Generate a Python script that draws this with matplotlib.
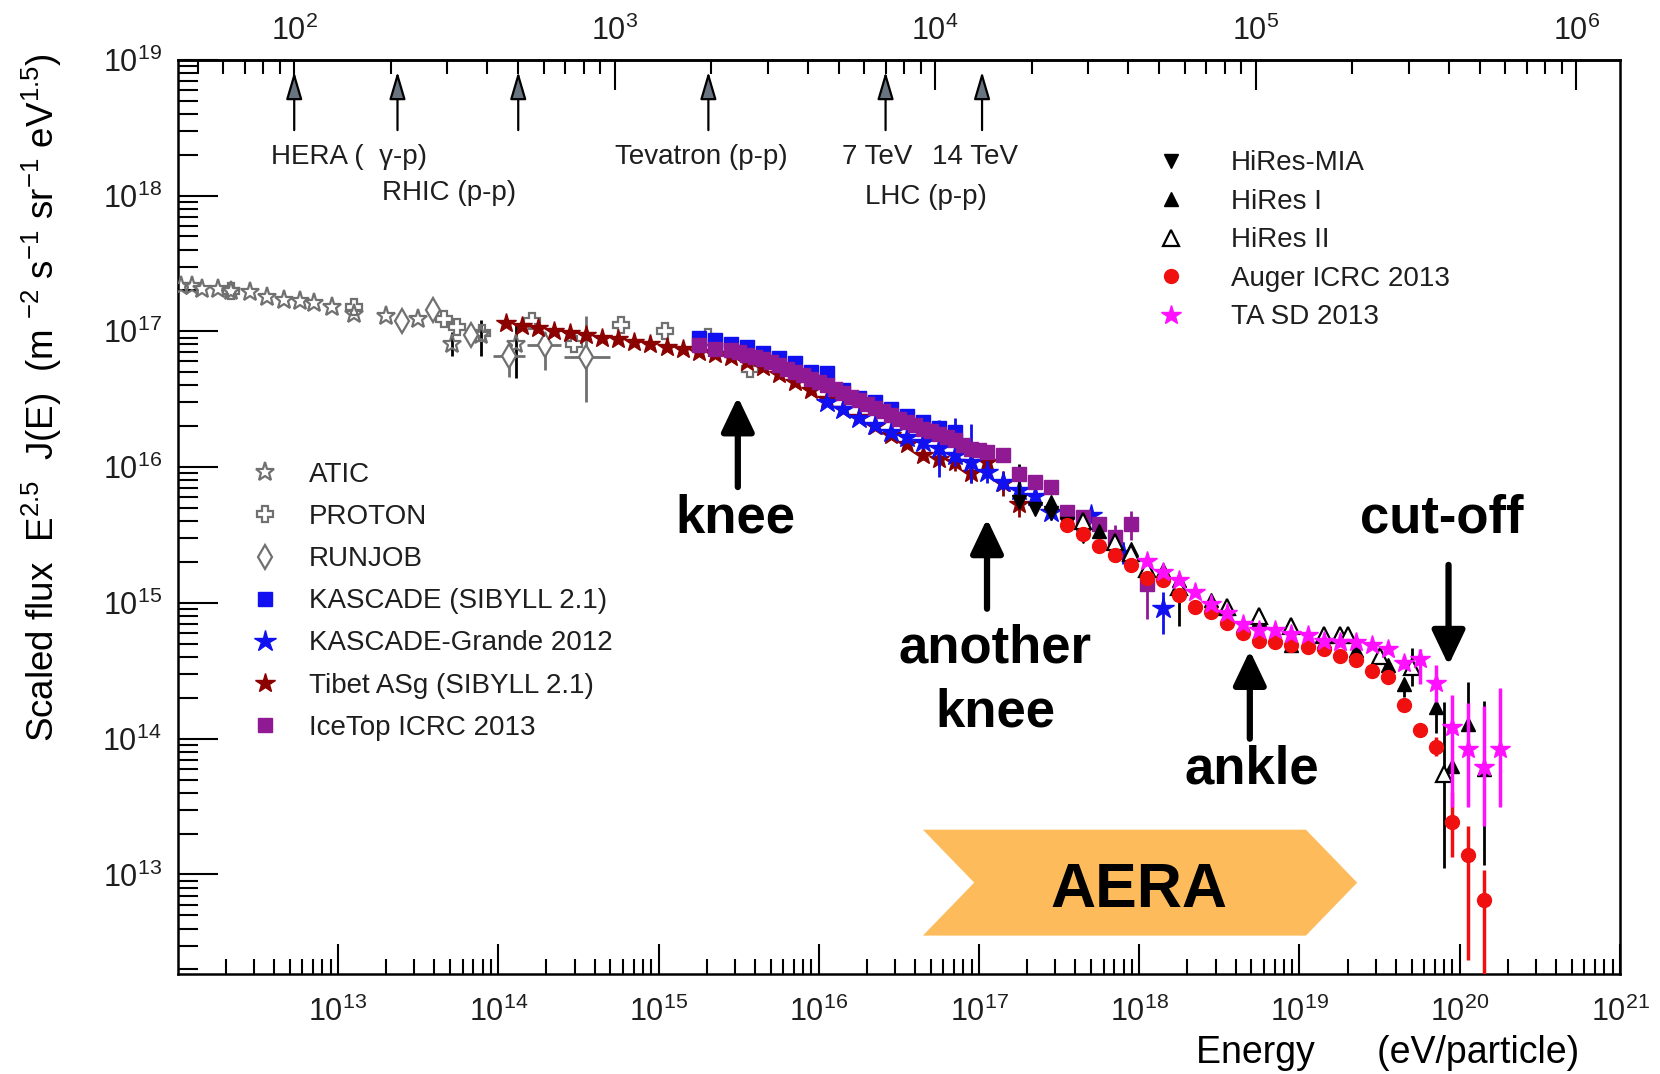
import numpy as np
import matplotlib
matplotlib.use('Agg')
import matplotlib.pyplot as plt
from matplotlib.patches import Polygon
from matplotlib.ticker import LogLocator, NullFormatter
import matplotlib.transforms as mtransforms

plt.rcParams['font.family'] = ['Liberation Sans', 'DejaVu Sans']
plt.rcParams['mathtext.fontset'] = 'custom'
plt.rcParams['mathtext.rm'] = 'Liberation Sans'
plt.rcParams['mathtext.it'] = 'Liberation Sans:italic'
plt.rcParams['mathtext.bf'] = 'Liberation Sans:bold'
plt.rcParams['text.color'] = '#1e1e1e'

M_P = 0.938e9  # proton mass, eV

# all spectra as log10(E / eV) and log10(E^2.5 J(E)); errors in dex
atic_lgE = [12.02, 12.09, 12.15, 12.25, 12.33, 12.45, 12.56, 12.66, 12.76, 12.85, 12.96,
            13.10, 13.30, 13.50, 13.71, 13.89, 14.11]
atic_lgF = [17.33, 17.33, 17.315, 17.31, 17.30, 17.29, 17.25, 17.23, 17.22, 17.205, 17.18,
            17.13, 17.11, 17.09, 16.905, 16.97, 16.905]
atic_lo = [0]*14 + [0.09, 0.15, 0.25]
atic_hi = [0]*14 + [0.09, 0.11, 0.14]

proton_lgE = [12.33, 13.10, 13.66, 13.745, 13.90, 14.21, 14.47, 14.765, 15.04, 15.31, 15.57]
proton_lgF = [17.30, 17.18, 17.094, 17.032, 16.99, 17.077, 16.91, 17.045, 17.0, 16.96, 16.726]

runjob_lgE = [13.40, 13.59, 13.83, 14.07, 14.29, 14.55]
runjob_lgF = [17.074, 17.155, 16.97, 16.816, 16.897, 16.81]
runjob_lo = [0, 0, 0, 0.15, 0.18, 0.33]
runjob_hi = [0, 0, 0, 0.045, 0.10, 0.30]
runjob_xlo = [0, 0, 0, 0.105, 0.11, 0.14]
runjob_xhi = [0, 0, 0, 0.10, 0.10, 0.15]

tibet_lgE = [14.05, 14.15, 14.25, 14.35, 14.45, 14.55, 14.65, 14.75, 14.85, 14.95,
             15.05, 15.15, 15.25, 15.35, 15.45, 15.55, 15.65, 15.75, 15.85, 15.95,
             16.05, 16.15, 16.25, 16.35, 16.45, 16.55, 16.65, 16.75, 16.85, 16.95,
             17.05, 17.15, 17.25]
tibet_lgF = [17.058, 17.038, 17.021, 17.003, 16.988, 16.971, 16.954, 16.94, 16.922, 16.903,
             16.885, 16.873, 16.848, 16.836, 16.811, 16.775, 16.738, 16.689, 16.627, 16.566,
             16.50, 16.43, 16.37, 16.30, 16.24, 16.17, 16.09, 16.06, 16.04, 15.96,
             16.04, 15.88, 15.73]
tibet_lo = [0]*26 + [0.04, 0.05, 0.07, 0.08, 0.08, 0.09, 0.10]
tibet_hi = [0]*26 + [0.04, 0.05, 0.07, 0.08, 0.08, 0.09, 0.10]

kascade_lgE = [15.25, 15.35, 15.45, 15.55, 15.65, 15.75, 15.85, 15.95, 16.05, 16.15,
               16.25, 16.35, 16.45, 16.55, 16.65, 16.75, 16.85]
kascade_lgF = [16.95, 16.935, 16.91, 16.885, 16.84, 16.80, 16.763, 16.70, 16.69, 16.57,
               16.51, 16.48, 16.43, 16.38, 16.33, 16.29, 16.26]
kascade_lo = [0]*12 + [0.03, 0.04, 0.05, 0.06, 0.14]
kascade_hi = [0]*12 + [0.05, 0.04, 0.05, 0.06, 0.10]

grande_lgE = [16.05, 16.15, 16.25, 16.35, 16.45, 16.55, 16.65, 16.75, 16.85, 16.95,
              17.05, 17.15, 17.25, 17.35, 17.45, 17.70, 17.90, 18.15]
grande_lgF = [16.48, 16.43, 16.36, 16.31, 16.26, 16.22, 16.185, 16.14, 16.09, 16.04,
              15.965, 15.89, 15.835, 15.79, 15.67, 15.645, 15.37, 14.96]
grande_lo = [0, 0, 0, 0, 0, 0.04, 0.05, 0.21, 0.08, 0.16, 0.08, 0.06, 0.06, 0.06, 0.06, 0.06, 0.08, 0.19]
grande_hi = [0, 0, 0, 0, 0, 0.04, 0.05, 0.16, 0.08, 0.28, 0.08, 0.06, 0.06, 0.06, 0.06, 0.06, 0.08, 0.12]

icetop_lgE = [15.25, 15.35, 15.45, 15.50, 15.55, 15.60, 15.65, 15.70, 15.75, 15.80,
              15.85, 15.90, 15.95, 16.00, 16.05, 16.10, 16.15, 16.20, 16.25, 16.30,
              16.35, 16.40, 16.45, 16.50, 16.55, 16.60, 16.65, 16.70, 16.75, 16.80,
              16.85, 16.90, 16.95, 17.00, 17.05, 17.15, 17.25, 17.35, 17.45, 17.55,
              17.65, 17.75, 17.85, 17.95, 18.05]
icetop_lgF = [16.898, 16.873, 16.861, 16.848, 16.829, 16.811, 16.794, 16.775, 16.75, 16.726,
              16.70, 16.676, 16.652, 16.627, 16.603, 16.578, 16.546, 16.517, 16.492, 16.463,
              16.438, 16.413, 16.382, 16.357, 16.332, 16.308, 16.284, 16.264, 16.242, 16.222,
              16.203, 16.161, 16.136, 16.124, 16.11, 16.087, 15.95, 15.89, 15.85, 15.67,
              15.63, 15.58, 15.485, 15.58, 15.14]
icetop_lo = [0]*42 + [0.0, 0.12, 0.26]
icetop_hi = [0]*42 + [0.085, 0.10, 0.09]

mia_lgE = [17.25, 17.35, 17.45, 17.55, 17.65]
mia_lgF = [15.74, 15.69, 15.66, 15.58, 15.49]
mia_lo = [0.02, 0, 0, 0, 0]
mia_hi = [0.28, 0, 0, 0, 0]

hires1_lgE = [17.45, 17.75, 17.95, 18.15, 18.25, 18.45, 18.55, 18.75, 18.95, 19.15,
              19.35, 19.55, 19.65, 19.85, 19.95, 20.05, 20.15]
hires1_lgF = [15.74, 15.53, 15.40, 15.24, 15.17, 15.02, 14.96, 14.88, 14.69, 14.72,
              14.65, 14.54, 14.405, 14.23, 13.80, 14.11, 13.78]
hires1_lo = [0]*12 + [0.10, 0.19, 0.18, 0.30, 0.71]
hires1_hi = [0]*12 + [0.0, 0.04, 0.05, 0.31, 0.50]

hires2_lgE = [17.65, 17.85, 17.95, 18.05, 18.25, 18.55, 18.75, 18.95, 19.15, 19.25,
              19.30, 19.50, 19.70, 19.90]
hires2_lgF = [15.60, 15.45, 15.37, 15.25, 15.12, 14.97, 14.90, 14.83, 14.76, 14.76,
              14.76, 14.61, 14.53, 13.74]
hires2_lo = [0, 0, 0, 0.10, 0.29, 0, 0, 0, 0, 0, 0, 0, 0.14, 0.69]
hires2_hi = [0, 0, 0, 0.10, 0.095, 0, 0, 0, 0, 0, 0, 0, 0.14, 0.53]

auger_lgE = [17.55, 17.65, 17.75, 17.85, 17.95, 18.05, 18.15, 18.25, 18.35, 18.45,
             18.55, 18.65, 18.75, 18.85, 18.95, 19.05, 19.15, 19.25, 19.35, 19.45,
             19.55, 19.65, 19.75, 19.85, 19.95, 20.05, 20.15]
auger_lgF = [15.57, 15.51, 15.42, 15.35, 15.276, 15.186, 15.166, 15.06, 14.97, 14.93,
             14.85, 14.78, 14.72, 14.71, 14.69, 14.677, 14.66, 14.61, 14.576, 14.50,
             14.455, 14.25, 14.065, 13.94, 13.39, 13.14, 12.81]
auger_lo = [0]*21 + [0.03, 0.04, 0.07, 0.26, 0.77, 1.2]
auger_hi = [0]*21 + [0.03, 0.04, 0.07, 0.22, 0.22, 0.22]

ta_lgE = [18.05, 18.15, 18.25, 18.35, 18.45, 18.55, 18.65, 18.75, 18.85, 18.95,
          19.05, 19.15, 19.25, 19.35, 19.45, 19.55, 19.65, 19.75, 19.85, 19.95,
          20.05, 20.15, 20.25]
ta_lgF = [15.31, 15.227, 15.166, 15.08, 14.994, 14.925, 14.847, 14.80, 14.80, 14.77,
          14.76, 14.72, 14.71, 14.71, 14.69, 14.66, 14.56, 14.59, 14.41, 14.085,
          13.925, 13.79, 13.925]
ta_lo = [0]*16 + [0.05, 0.19, 0.14, 0.585, 0.425, 0.43, 0.425]
ta_hi = [0]*16 + [0.05, 0.07, 0.13, 0.235, 0.335, 0.45, 0.445]

# collider centre-of-mass energies, GeV
collider_sqrt_s = [100, 210, 500, 1960, 7000, 14000]

# AERA energy coverage, log10(E / eV)
aera_lgE = (16.65, 19.36)


def sqrt_s(E):
    return np.sqrt(2 * M_P * np.abs(np.asarray(E, float))) / 1e9


def lab_energy(g):
    return (np.asarray(g, float) * 1e9) ** 2 / (2 * M_P)


def draw(ax, lgE, lgF, lo=None, hi=None, xlo=None, xhi=None, ecolor=None, elw=2.0, **kw):
    lgE = np.array(lgE, float)
    lgF = np.array(lgF, float)
    E, F = 10 ** lgE, 10 ** lgF
    yerr = xerr = None
    if lo is not None:
        yerr = [F - 10 ** (lgF - np.array(lo)), 10 ** (lgF + np.array(hi)) - F]
    if xlo is not None:
        xerr = [E - 10 ** (lgE - np.array(xlo)), 10 ** (lgE + np.array(xhi)) - E]
    c = ax.errorbar(E, F, yerr=yerr, xerr=xerr, linestyle='none', ecolor=ecolor,
                    elinewidth=elw, capsize=0, **kw)
    return c[0]


fig = plt.figure(figsize=(16.6, 10.74), dpi=100)
ax = fig.add_axes([0.1075, 0.0931, 0.8684, 0.8513])
ax.set_xscale('log')
ax.set_yscale('log')
ax.set_xlim(1.01e12, 1e21)
ax.set_ylim(1.85e12, 1e19)

grey = '#707070'
h_atic = draw(ax, atic_lgE, atic_lgF, atic_lo, atic_hi, ecolor='black', marker='*', ms=14,
              mfc='none', mec=grey, mew=1.6, zorder=3)
h_proton = draw(ax, proton_lgE, proton_lgF, marker='P', ms=11, mfc='none', mec=grey,
                mew=1.6, zorder=3)
h_runjob = draw(ax, runjob_lgE, runjob_lgF, runjob_lo, runjob_hi, runjob_xlo, runjob_xhi,
                ecolor=grey, marker='d', ms=12, mfc='white', mec=grey, mew=1.6, zorder=3)
h_tibet = draw(ax, tibet_lgE, tibet_lgF, tibet_lo, tibet_hi, ecolor='#8b0000', marker='*',
               ms=15, color='#8b0000', zorder=4)
h_kascade = draw(ax, kascade_lgE, kascade_lgF, kascade_lo, kascade_hi, ecolor='#1010f0',
                 marker='s', ms=9.5, color='#1010f0', zorder=4)
h_grande = draw(ax, grande_lgE, grande_lgF, grande_lo, grande_hi, ecolor='#1010f0',
                marker='*', ms=16, color='#1010f0', zorder=5)
h_icetop = draw(ax, icetop_lgE, icetop_lgF, icetop_lo, icetop_hi, ecolor='#901a94',
                marker='s', ms=9.5, color='#901a94', zorder=6)
h_mia = draw(ax, mia_lgE, mia_lgF, mia_lo, mia_hi, ecolor='black', marker='v', ms=10,
             color='black', zorder=6)
h_hires1 = draw(ax, hires1_lgE, hires1_lgF, hires1_lo, hires1_hi, ecolor='black',
                marker='^', ms=10, color='black', zorder=6)
h_hires2 = draw(ax, hires2_lgE, hires2_lgF, hires2_lo, hires2_hi, ecolor='black',
                marker='^', ms=11, mfc='white', mec='black', mew=1.6, zorder=6)
h_auger = draw(ax, auger_lgE, auger_lgF, auger_lo, auger_hi, ecolor='#f01010', elw=2.5,
               marker='o', ms=10, color='#f01010', zorder=7)
h_ta = draw(ax, ta_lgE, ta_lgF, ta_lo, ta_hi, ecolor='#ff10ff', elw=2.5, marker='*',
            ms=15, color='#ff10ff', zorder=8)

# AERA chevron
x0, x1 = aera_lgE
notch = 0.32
ytop, ymid, ybot = 13.33, 12.94, 12.55
chev = np.array([[x0, ytop], [x1 - notch, ytop], [x1, ymid], [x1 - notch, ybot],
                 [x0, ybot], [x0 + notch, ymid]])
ax.add_patch(Polygon(10 ** chev, closed=True, fc='#fdbb5c', ec='none', zorder=1))
ax.text(10 ** 18.0, 10 ** 12.758, 'AERA', ha='center', va='baseline', fontsize=45,
        fontweight='bold', color='black', zorder=2)

# feature arrows and labels
big = dict(arrowstyle='-|>,head_length=2.1,head_width=1.0', lw=4.5, color='black',
           mutation_scale=10, shrinkA=0, shrinkB=0)
features = [(15.495, 15.853, 16.517), (17.05, 14.957, 15.62), (18.69, 14.0, 14.65),
            (19.93, 15.28, 14.54)]
for lx, ly0, ly1 in features:
    ax.annotate('', xy=(10 ** lx, 10 ** ly1), xytext=(10 ** lx, 10 ** ly0),
                arrowprops=big, zorder=9)
bold = dict(ha='center', va='baseline', fontsize=38, fontweight='bold',
            color='black', zorder=9)
ax.text(10 ** 15.48, 10 ** 15.516, 'knee', **bold)
ax.text(10 ** 17.10, 10 ** 14.564, 'another', **bold)
ax.text(10 ** 17.10, 10 ** 14.088, 'knee', **bold)
ax.text(10 ** 18.70, 10 ** 13.667, 'ankle', **bold)
ax.text(10 ** 19.89, 10 ** 15.516, 'cut-off', **bold)

# collider markers along the top
trans = mtransforms.blended_transform_factory(ax.transData, ax.transAxes)
small = dict(arrowstyle='-|>,head_length=1.7,head_width=0.5', lw=1.6, fc='#6a7480',
             ec='black', mutation_scale=10, shrinkA=0, shrinkB=0)
for g in collider_sqrt_s:
    E = lab_energy(g)
    ax.annotate('', xy=(E, 0.987), xytext=(E, 0.923), xycoords=trans, textcoords=trans,
                arrowprops=small)
top_lab = dict(ha='center', va='baseline', fontsize=20, transform=trans)
ax.text(10 ** 13.067, 0.886, 'HERA (  γ-p)', **top_lab)
ax.text(10 ** 13.690, 0.847, 'RHIC (p-p)', **top_lab)
ax.text(10 ** 15.268, 0.886, 'Tevatron (p-p)', **top_lab)
ax.text(10 ** 16.365, 0.886, '7 TeV', **top_lab)
ax.text(10 ** 16.976, 0.886, '14 TeV', **top_lab)
ax.text(10 ** 16.667, 0.842, 'LHC (p-p)', **top_lab)

# axes styling
for s in ax.spines.values():
    s.set_linewidth(1.8)
ax.xaxis.set_major_locator(LogLocator(base=10, numticks=30))
ax.xaxis.set_minor_locator(LogLocator(base=10, subs=np.arange(2, 10), numticks=300))
ax.xaxis.set_minor_formatter(NullFormatter())
ax.yaxis.set_major_locator(LogLocator(base=10, numticks=30))
ax.yaxis.set_minor_locator(LogLocator(base=10, subs=np.arange(2, 10), numticks=300))
ax.yaxis.set_minor_formatter(NullFormatter())
ax.tick_params(axis='x', which='major', direction='in', length=21.6, width=1.5,
               labelsize=22, pad=16, top=False, labelcolor='#1e1e1e')
ax.tick_params(axis='x', which='minor', direction='in', length=10.8, width=1.5, top=False)
ax.tick_params(axis='y', which='major', direction='in', length=29, width=1.5,
               labelsize=22, pad=12, right=False, labelcolor='#1e1e1e')
ax.tick_params(axis='y', which='minor', direction='in', length=14.4, width=1.5, right=False)

secax = ax.secondary_xaxis('top', functions=(sqrt_s, lab_energy))
secax.xaxis.set_major_locator(LogLocator(base=10, numticks=30))
secax.xaxis.set_minor_locator(LogLocator(base=10, subs=np.arange(2, 10), numticks=300))
secax.xaxis.set_minor_formatter(NullFormatter())
secax.tick_params(axis='x', which='major', direction='in', length=21.6, width=1.5,
                  labelsize=22, pad=9, labelcolor='#1e1e1e')
secax.tick_params(axis='x', which='minor', direction='in', length=10, width=1.5)
secax.spines['top'].set_linewidth(1.8)

ax.set_ylabel(r'Scaled flux  E$^{2.5}$  J(E)  (m ${}^{-2}$ s$^{-1}$ sr$^{-1}$ eV$^{1.5}$)',
              fontsize=26.5, va='center')
ax.yaxis.set_label_coords(-0.0945, 0.63)
ax.set_xlabel('Energy      (eV/particle)', fontsize=27, ha='right', va='baseline')
ax.xaxis.set_label_coords(0.9716, -0.0975)

leg1 = ax.legend([h_atic, h_proton, h_runjob, h_kascade, h_grande, h_tibet, h_icetop],
                 ['ATIC', 'PROTON', 'RUNJOB', 'KASCADE (SIBYLL 2.1)', 'KASCADE-Grande 2012',
                  'Tibet ASg (SIBYLL 2.1)', 'IceTop ICRC 2013'],
                 loc='upper left', bbox_to_anchor=(0.0504, 0.560), frameon=False,
                 fontsize=20, handlelength=1.0, handletextpad=1.08, labelspacing=0.58,
                 borderpad=0, borderaxespad=0, numpoints=1)
ax.add_artist(leg1)
ax.legend([h_mia, h_hires1, h_hires2, h_auger, h_ta],
          ['HiRes-MIA', 'HiRes I', 'HiRes II', 'Auger ICRC 2013', 'TA SD 2013'],
          loc='upper left', bbox_to_anchor=(0.6789, 0.901), frameon=False,
          fontsize=20, handlelength=1.0, handletextpad=1.66, labelspacing=0.45,
          borderpad=0, borderaxespad=0, numpoints=1)

fig.savefig('out.png', dpi=100)
